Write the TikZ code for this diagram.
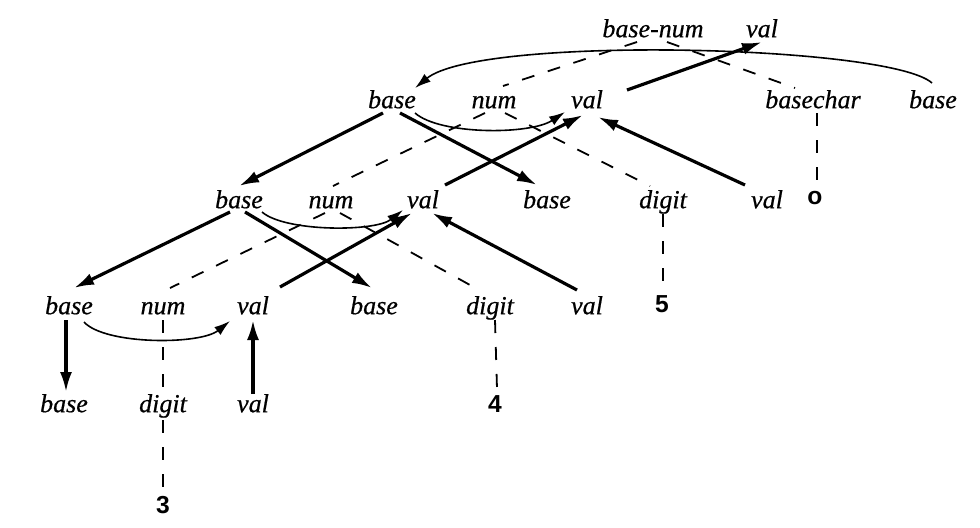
\documentclass[tikz,border=0pt]{standalone}
\usepackage{fontspec}
\setmainfont{Liberation Serif}
\newfontfamily\lblfont[FakeBold=0.6]{Liberation Serif}
\newfontfamily\leaffont{Liberation Sans}
\usetikzlibrary{arrows.meta,calc}
\begin{document}
\begin{tikzpicture}[x=0.5pt,y=-0.5pt,
  lbl/.style={font=\lblfont\fontsize{13}{15}\selectfont\itshape, inner sep=0pt, text height=8.8pt, text depth=2.6pt},
  leaf/.style={font=\leaffont\fontsize{12.3}{14}\selectfont\bfseries, inner sep=0pt, anchor=base},
  dep/.style={line width=1.6pt, -{Latex[length=10pt,width=6pt]}},
  arcdep/.style={line width=0.8pt, -{Latex[length=8pt,width=5pt]}},
  treeedge/.style={line width=0.9pt, dash pattern=on 6.5pt off 7pt}]
\useasboundingbox (0,0) rectangle (980,527);
% row 0
\node[lbl] (bn) at (653,31) {base-num};
\node[lbl] (v0) at (762,31) {val};
% row 1
\node[lbl] (b1) at (392,102) {base};
\node[lbl] (n1) at (494,102) {num};
\node[lbl] (v1) at (587,102) {val};
\node[lbl] (bc) at (813,102) {basechar};
\node[lbl] (bb) at (933,102) {base};
% row 2
\node[lbl] (b2) at (239,202) {base};
\node[lbl] (n2) at (331,202) {num};
\node[lbl] (v2) at (423,202) {val};
\node[lbl] (b2r) at (547,202) {base};
\node[lbl] (d2) at (663,202) {digit};
\node[lbl] (v2r) at (767,202) {val};
\node[leaf] (o) at (815,204) {o};
% row 3
\node[lbl] (b3) at (69,308) {base};
\node[lbl] (n3) at (163,308) {num};
\node[lbl] (v3) at (253,308) {val};
\node[lbl] (b3r) at (374,308) {base};
\node[lbl] (d3) at (490,308) {digit};
\node[lbl] (v3r) at (587,308) {val};
\node[leaf] (five) at (662,312) {5};
% row 4
\node[lbl] (b4) at (64,406) {base};
\node[lbl] (d4) at (163,406) {digit};
\node[lbl] (v4) at (253,406) {val};
\node[leaf] (four) at (495,412) {4};
\node[leaf] (three) at (163,513) {3};

% tree edges (dashed)
\draw[treeedge] ($(bn)+(-16,11)$) -- ($(n1)+(9,-16)$);
\draw[treeedge] ($(bn)+(14,11)$) -- ($(bc)+(-18,-14)$);
\draw[treeedge] ($(bc)+(4,11)$) -- ($(o.north)+(2,-6)$);
\draw[treeedge] ($(n1)+(-9,11)$) -- ($(n2)+(2,-16)$);
\draw[treeedge] ($(n1)+(11,11)$) -- ($(d2)+(-13,-16)$);
\draw[treeedge] ($(d2)+(0,12)$) -- ($(five.north)+(1,-6)$);
\draw[treeedge] ($(n2)+(-6,11)$) -- ($(n3)+(7,-20)$);
\draw[treeedge] ($(n2)+(9,11)$) -- ($(d3)+(-20,-23)$);
\draw[treeedge] ($(d3)+(5,12)$) -- ($(four.north)+(2,-6)$);
\draw[treeedge] ($(n3)+(0,12)$) -- ($(d4)+(0,-14)$);
\draw[treeedge] ($(d4)+(0,14)$) -- ($(three.north)+(0,-6)$);

% dependency edges
\draw[arcdep] ($(bb)+(-1,-19)$) .. controls (890,45) and (480,35) .. ($(b1)+(23,-14)$);
\draw[dep] ($(v1)+(40,-12)$) -- ($(v0)+(0,11)$);

\draw[dep] ($(b1)+(-9,11)$) -- ($(b2)+(0,-16)$);
\draw[dep] ($(b1)+(8,11)$) -- ($(b2r)+(-10,-17)$);
\draw[arcdep] ($(b1)+(23,11)$) .. controls (440,135) and (530,135) .. ($(v1)+(-22,10)$);
\draw[dep] ($(v2)+(22,-17)$) -- ($(v1)+(-4,13)$);
\draw[dep] ($(v2r)+(-22,-17)$) -- ($(v1)+(11,15)$);

\draw[dep] ($(b2)+(-9,10)$) -- ($(b3)+(5,-20)$);
\draw[dep] ($(b2)+(6,10)$) -- ($(b3r)+(-2,-20)$);
\draw[arcdep] ($(b2)+(23,10)$) .. controls (285,232) and (375,232) .. ($(v2)+(-20,8)$);
\draw[dep] ($(v3)+(27,-21)$) -- ($(v2)+(-11,11)$);
\draw[dep] ($(v3r)+(-10,-18)$) -- ($(v2)+(9,11)$);

\draw[dep] ($(b3)+(-3,12)$) -- ($(b4)+(2,-14)$);
\draw[arcdep] ($(b3)+(15,14)$) .. controls (105,345) and (200,345) .. ($(v3)+(-23,13)$);
\draw[dep] ($(v4)+(0,-12)$) -- ($(v3)+(0,12)$);
\end{tikzpicture}
\end{document}
